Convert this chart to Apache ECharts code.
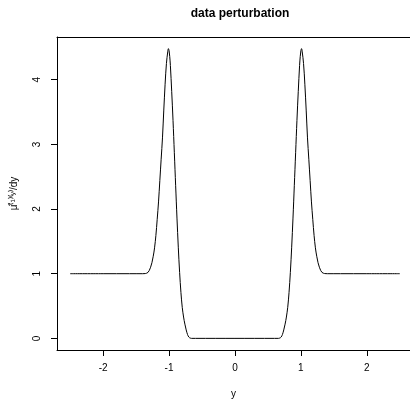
<!DOCTYPE html>
<html>
<head>
<meta charset="utf-8">
<script src="https://cdn.jsdelivr.net/npm/echarts@6/dist/echarts.min.js"></script>
<style>html,body{margin:0;padding:0;background:#fff;overflow:hidden}#c{width:410px;height:404px}</style>
</head>
<body>
<div id="c"></div>
<script>
const titleText = "data perturbation";
const xName = "y";
const yName = "μ̂⁽¹⁾⁽ʸ⁾/dy";
const xTicks = [-2, -1, 0, 1, 2];
const yTicks = [0, 1, 2, 3, 4];
const xVals = [
  -2.5, -2.0, -1.6, -1.4, -1.36, -1.34, -1.32, -1.30, -1.28, -1.26, -1.24, -1.22, -1.20, -1.18, -1.16, -1.14, -1.12, -1.10,
  -1.08, -1.06, -1.04, -1.02, -1.01, -1.00, -0.99, -0.98, -0.96, -0.94, -0.92, -0.90, -0.88, -0.86, -0.84,
  -0.82, -0.80, -0.78, -0.76, -0.74, -0.72, -0.70, -0.68, -0.66, -0.60, -0.30, 0.0,
  0.30, 0.60, 0.66, 0.68, 0.70, 0.72, 0.74, 0.76, 0.78, 0.80, 0.82,
  0.84, 0.86, 0.88, 0.90, 0.92, 0.94, 0.96, 0.98, 0.99, 1.00, 1.01, 1.02, 1.04, 1.06, 1.08,
  1.10, 1.12, 1.14, 1.16, 1.18, 1.20, 1.22, 1.24, 1.26, 1.28, 1.30, 1.32, 1.34, 1.36, 1.4, 1.6, 2.0, 2.5
];
const yVals = [
  1, 1, 1, 1, 1.002, 1.008, 1.02, 1.05, 1.10, 1.17, 1.27, 1.40, 1.59, 1.84, 2.11, 2.44, 2.77, 3.10,
  3.53, 3.93, 4.25, 4.43, 4.48, 4.45, 4.36, 4.22, 3.82, 3.37, 2.87, 2.36, 1.86, 1.41, 1.02,
  0.71, 0.48, 0.33, 0.22, 0.13, 0.06, 0.02, 0.005, 0, 0, 0, 0,
  0, 0, 0, 0.005, 0.02, 0.06, 0.13, 0.22, 0.33, 0.48, 0.71,
  1.02, 1.41, 1.86, 2.36, 2.87, 3.37, 3.82, 4.22, 4.36, 4.45, 4.48, 4.43, 4.25, 3.93, 3.53,
  3.10, 2.77, 2.44, 2.11, 1.84, 1.59, 1.40, 1.27, 1.17, 1.10, 1.05, 1.02, 1.008, 1.002, 1, 1, 1, 1
];
const seriesData = xVals.map((x, i) => [x, yVals[i]]);
const font = "Liberation Sans, Arial, Helvetica, sans-serif";
const chart = echarts.init(document.getElementById('c'), null, {renderer: 'canvas'});
chart.setOption({
  animation: false,
  title: {
    text: titleText, left: 235, top: 3, textAlign: 'center',
    textStyle: {fontFamily: font, fontSize: 12, fontWeight: 'bold', color: '#000'}
  },
  grid: {left: 57, right: 0, top: 37, bottom: 50, show: false, containLabel: false},
  xAxis: [{
    type: 'value', min: -2.7, max: 2.655,
    name: xName, nameLocation: 'middle', nameGap: 39,
    nameTextStyle: {fontFamily: font, fontSize: 10, color: '#000'},
    axisLine: {show: true, onZero: false, lineStyle: {color: '#000', width: 1}},
    axisTick: {show: true, length: 6, lineStyle: {color: '#000'}, customValues: xTicks},
    axisLabel: {fontFamily: font, fontSize: 10, color: '#000', margin: 13, customValues: xTicks},
    splitLine: {show: false}
  }, {
    type: 'value', position: 'top', min: -2.7, max: 2.655,
    axisLine: {show: true, onZero: false, lineStyle: {color: '#000', width: 1}},
    axisTick: {show: false}, axisLabel: {show: false}, splitLine: {show: false}
  }],
  yAxis: {
    type: 'value', min: -0.18, max: 4.66,
    name: yName, nameLocation: 'middle', nameGap: 38, nameRotate: 90,
    nameTextStyle: {fontFamily: font, fontSize: 10, color: '#000'},
    axisLine: {show: true, onZero: false, lineStyle: {color: '#000', width: 1}},
    axisTick: {show: true, length: 6, lineStyle: {color: '#000'}, customValues: yTicks},
    axisLabel: {fontFamily: font, fontSize: 10, color: '#000', margin: 15, rotate: 90, customValues: yTicks},
    splitLine: {show: false}
  },
  series: [{
    type: 'line', xAxisIndex: 0, data: seriesData, showSymbol: false, smooth: 0.35,
    lineStyle: {color: '#000', width: 1}
  }]
});
</script>
</body>
</html>
